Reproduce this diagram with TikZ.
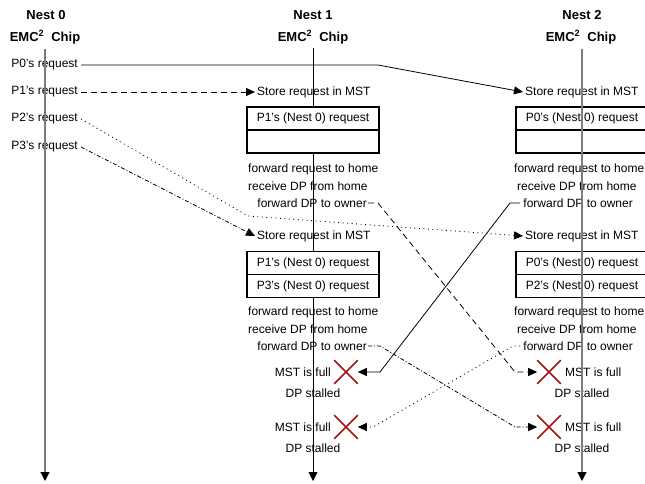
\documentclass[tikz,border=0pt]{standalone}
\usepackage{fontspec}
\setmainfont{Liberation Sans}
\usetikzlibrary{arrows.meta,shapes.misc}
\definecolor{xred}{RGB}{165,20,20}
\definecolor{vgray}{RGB}{125,125,125}
\begin{document}
\begin{tikzpicture}[x=1pt,y=-1pt,
  every node/.style={font=\fontsize{12}{14}\selectfont, inner sep=0pt},
  hdr/.style={font=\fontsize{13}{15}\selectfont\bfseries},
  txt/.style={inner xsep=2pt},
  lbl/.style={inner xsep=3pt},
  con/.style={line width=0.8pt, -{Triangle[length=9pt,width=8pt]}},
  vline/.style={line width=1.2pt, -{Triangle[length=9pt,width=9pt,color=black]}},
  boxrow/.style={draw, line width=1.8pt, fill=white, minimum width=132pt, minimum height=23pt},
  xmark/.style={draw=xred, cross out, line width=1.6pt, minimum size=22pt},
  mydash/.style={dash pattern=on 6pt off 4pt},
  mydot/.style={dash pattern=on 1pt off 3.5pt},
  mydashdot/.style={dash pattern=on 4pt off 2pt on 1pt off 2pt}]
\useasboundingbox (0,0) rectangle (645,483);

% Nest 1 axis (black, behind boxes)
\coordinate (t1) at (313,48);
\coordinate (e1) at (313,481);
\draw[vline, draw=black, line width=0.8pt] (t1) -- (e1);

% headers
\node[hdr] (h0a) at (46,15) {Nest 0};
\node[hdr] (h0b) at (45,37) {EMC\textsuperscript{2}\hspace{0.55em}Chip};
\node[hdr] (h1a) at (313,15) {Nest 1};
\node[hdr] (h1b) at (313,37) {EMC\textsuperscript{2}\hspace{0.55em}Chip};
\node[hdr] (h2a) at (582,15) {Nest 2};
\node[hdr] (h2b) at (581,37) {EMC\textsuperscript{2}\hspace{0.55em}Chip};

% left labels
\node[lbl, anchor=east] (p0) at (81,65) {P0's request};
\node[lbl, anchor=east] (p1) at (81,92) {P1's request};
\node[lbl, anchor=east] (p2) at (81,119) {P2's request};
\node[lbl, anchor=east] (p3) at (81,147) {P3's request};

% Store request texts
\node[txt, anchor=west] (s1a) at (255,92) {Store request in MST};
\node[txt, anchor=west] (s1b) at (255,236) {Store request in MST};
\node[txt, anchor=west] (s2a) at (523,92) {Store request in MST};
\node[txt, anchor=west] (s2b) at (523,236) {Store request in MST};

% MST boxes Nest 1
\node[boxrow] (b1a1) at (313,118.5) {P1's (Nest 0) request};
\node[boxrow] (b1a2) at (313,141.5) {};
\node[boxrow] (b1b1) at (313,263) {P1's (Nest 0) request};
\node[boxrow] (b1b2) at (313,286) {P3's (Nest 0) request};
% MST boxes Nest 2
\node[boxrow] (b2a1) at (582,118.5) {P0's (Nest 0) request};
\node[boxrow] (b2a2) at (582,141.5) {};
\node[boxrow] (b2b1) at (582,263) {P0's (Nest 0) request};
\node[boxrow] (b2b2) at (582,286) {P2's (Nest 0) request};

% action texts Nest 1
\node[txt, anchor=west] (f1a) at (246,169) {forward request to home};
\node[txt, anchor=west] (r1a) at (246,186) {receive DP from home};
\node[inner xsep=1pt, anchor=east] (o1a) at (368,203) {forward DP to owner};
\node[txt, anchor=west] (f1b) at (246,312) {forward request to home};
\node[txt, anchor=west] (r1b) at (246,329) {receive DP from home};
\node[inner xsep=1pt, anchor=east] (o1b) at (368,346) {forward DP to owner};
% action texts Nest 2
\node[txt, anchor=west] (f2a) at (512,169) {forward request to home};
\node[txt, anchor=west] (r2a) at (515,186) {receive DP from home};
\node[lbl, anchor=east] (o2a) at (636,203) {forward DP to owner};
\node[txt, anchor=west] (f2b) at (512,312) {forward request to home};
\node[txt, anchor=west] (r2b) at (515,329) {receive DP from home};
\node[lbl, anchor=east] (o2b) at (636,346) {forward DP to owner};

% MST full Nest 1
\node[anchor=east] (m1a) at (331,372) {MST is full};
\node[xmark] (x1a) at (346,372) {};
\node (d1a) at (313,393) {DP stalled};
\node[anchor=east] (m1b) at (331,427) {MST is full};
\node[xmark] (x1b) at (346,427) {};
\node (d1b) at (313,448) {DP stalled};
% MST full Nest 2
\node[xmark] (x2a) at (549,372) {};
\node[anchor=west] (m2a) at (565,372) {MST is full};
\node (d2a) at (582,393) {DP stalled};
\node[xmark] (x2b) at (549,427) {};
\node[anchor=west] (m2b) at (565,427) {MST is full};
\node (d2b) at (582,448) {DP stalled};

% gray axes on top
\coordinate (t0) at (45,49);
\coordinate (e0) at (45,481);
\coordinate (t2) at (582,49);
\coordinate (e2) at (582,481);
\draw[vline, draw=vgray] (t0) -- (e0);
\draw[vline, draw=vgray] (t2) -- (e2);

% requests
\draw[con] (p0.east) -- (378,65) -- (s2a.west);
\draw[con, mydash] (p1.east) -- (s1a.west);
\draw[con, mydot] (p2.east) -- (248,216) -- (s2b.west);
\draw[con, mydashdot] (p3.east) -- (s1b.west);

% data forwarding
\draw[con] (o2a.west) -- (510,203) -- (380,372) -- (x1a.east);
\draw[con, mydash] (o1a.east) -- (378,203) -- (515,372) -- (x2a.west);
\draw[con, mydashdot] (o1b.east) -- (380,346) -- (515,427) -- (x2b.west);
\draw[con, mydot] (o2b.west) -- (513,346) -- (373,427) -- (x1b.east);
\end{tikzpicture}
\end{document}
